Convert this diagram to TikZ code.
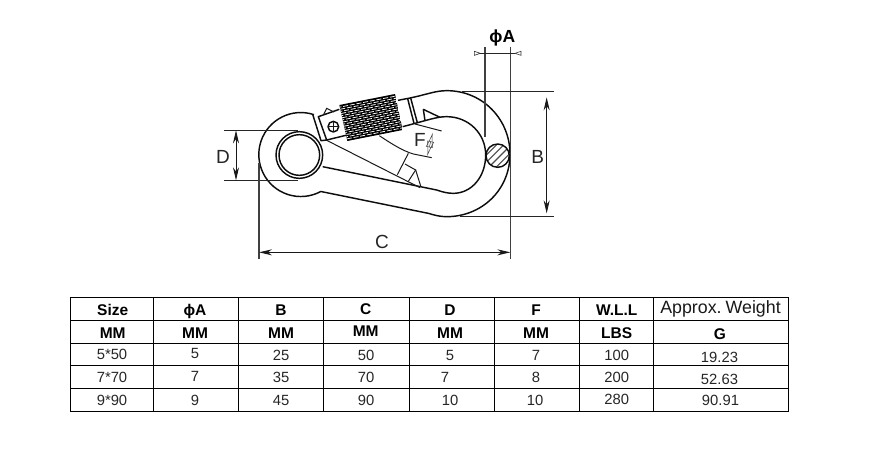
\documentclass[tikz,border=0pt]{standalone}
\usepackage{fontspec}
\setmainfont{Liberation Sans}
\usetikzlibrary{arrows.meta}
\tikzset{
  grid/.style={line width=1pt,black},
  cell/.style={inner sep=0pt,text height=10.5pt,text depth=0pt,text=black!85,font=\fontsize{14.8}{17}\selectfont},
  head/.style={inner sep=0pt,text height=11pt,text depth=0pt,text=black,font=\fontsize{15.5}{18}\bfseries\selectfont},
  dimlabel/.style={inner sep=0pt,text height=12pt,text depth=0pt,text=black!85,font=\fontsize{19}{21}\selectfont},
  body/.style={line width=1.45pt,black!95,line join=round},
  thin part/.style={line width=1pt,black!90},
  dimline/.style={line width=1pt,black!85},
  extline/.style={line width=1.1pt,black!75},
  dimarrow/.style={line width=.9pt,black!90,{Stealth[length=13,width=6]}-{Stealth[length=13,width=6]}},
  opentip/.style={line width=.6pt,black!80,fill=white},
}
\begin{document}
\begin{tikzpicture}[x=1pt,y=-1pt]
\useasboundingbox (0,0) rectangle (877,456);
\fill[white] (0,0) rectangle (877,456);
% ---------- carabiner, in units of a third of a pixel ----------
\begin{scope}[shift={(240,20)},x=0.33333pt,y=-0.33333pt]
  % named points for dimension lines
  \coordinate (Dtop0) at (-48,331);   \coordinate (Dtop1) at (174,331);
  \coordinate (Dbot0) at (-48,481);   \coordinate (Dbot1) at (174,481);
  \coordinate (Da) at (-12,331);      \coordinate (Db) at (-12,481);
  \coordinate (Cl0) at (57,430);      \coordinate (Cl1) at (57,716);
  \coordinate (Cr0) at (811,80);      \coordinate (Cr1) at (811,716);
  \coordinate (Ca) at (57,697);       \coordinate (Cb) at (811,697);
  \coordinate (Aleft0) at (735,80);   \coordinate (Aleft1) at (735,352);
  \coordinate (Atip) at (735,100);    \coordinate (Btip) at (811,100);
  \coordinate (Btop0) at (665,214);   \coordinate (Btop1) at (943,214);
  \coordinate (Bbot0) at (660,589);   \coordinate (Bbot1) at (943,589);
  \coordinate (Ba) at (920,232);      \coordinate (Bb) at (920,580);
  \coordinate (Fa) at (578,338);      \coordinate (Fb) at (562,408);
  % knurled sleeve
  \begin{scope}
    \clip (298,255) -- (465,222) -- (488,330) -- (322,363) -- cycle;
    \fill[black] (298,255) -- (465,222) -- (488,330) -- (322,363) -- cycle;
    \foreach \t in {1,...,16}{
      \pgfmathsetmacro{\ph}{mod(\t,2)*3.4}
      \draw[line width=.75pt,white,dash pattern=on 5pt off 1.8pt,dash phase=\ph pt]
        ({298+\t*1.41},{255+\t*6.35}) -- ++(170,-33.6);
    }
  \end{scope}
  % outer contour
  \draw[body] (222,284) arc[start angle=-71.7,end angle=-298.4,radius=126]
     -- (565,580) .. controls (585,586) and (600,590) .. (620,590)
     .. controls (725,590) and (810,510) .. (810,402)
     .. controls (810,300) and (730,212) .. (620,212)
     .. controls (585,212) and (560,224) .. (505,235) -- (474,241);
  % inner contour
  \draw[body] (248,440) -- (590,510) .. controls (610,517) and (625,520) .. (640,520)
     .. controls (695,520) and (737,470) .. (737,405)
     .. controls (737,340) and (685,290) .. (620,290)
     .. controls (590,290) and (565,300) .. (488,320);
  % eye ring
  \draw[body] (178,405) circle[radius=70];
  \draw[body] (178,405) circle[radius=61];
  % hinge end of gate
  \draw[body] (218,283) -- (243,362) -- (260,360) -- (235,290) -- (298,268);
  \draw[body] (260,360) -- (322,345);
  \draw[thin part] (250,285) -- (260,265) -- (282,276);
  \draw[body] (280,320) circle[radius=16];
  \draw[thin part] (264,320) -- (296,320) (280,304) -- (280,336);
  % gate nose
  \draw[body] (503,236) -- (522,310);
  \draw[body] (512,234) -- (532,308);
  \draw[body] (550,268) -- (555,302);
  \draw[body] (550,268) -- (600,292);
  % gate inner lines
  \draw[thin part] (258,360) -- (540,503);
  \draw[thin part] (418,347) .. controls (460,375) and (490,393) .. (520,402) -- (575,413);
  \draw[thin part] (525,312) -- (605,333);
  \draw[thin part] (505,400) -- (472,464);
  \draw[thin part] (495,432) -- (527,450) -- (505,484);
  \draw[thin part] (527,450) -- (543,501);
  % pin
  \begin{scope}
    \clip (773,407) circle[radius=35];
    \foreach \d in {-36,-14,8,30}
      \draw[line width=1.1pt,black!70] ({773+\d-40},{407+40}) -- ({773+\d+40},{407-40});
  \end{scope}
  \draw[body] (773,407) circle[radius=35];
  % dimension lines
  \draw[dimline] (Dtop0) -- (Dtop1);
  \draw[dimline] (Dbot0) -- (Dbot1);
  \draw[dimarrow] (Da) -- (Db);
  \draw[extline] (Cl0) -- (Cl1);
  \draw[extline] (Cr0) -- (Cr1);
  \draw[dimarrow] (Ca) -- (Cb);
  \draw[extline] (Aleft0) -- (Aleft1);
  \draw[dimline] (Atip) -- (Btip);
  \draw[dimline] (Btop0) -- (Btop1);
  \draw[dimline] (Bbot0) -- (Bbot1);
  \draw[dimarrow] (Ba) -- (Bb);
  \draw[opentip] (703,94) -- (703,106) -- (721,100) -- cycle;
  \draw[dimline,line width=.6pt] (721,100) -- (Atip);
  \draw[opentip] (843,94) -- (843,106) -- (825,100) -- cycle;
  \draw[dimline,line width=.6pt] (825,100) -- (Btip);
  \draw[line width=.5pt,black!75,{Latex[open,length=15,width=7]}-{Latex[open,length=15,width=7]}] (Fa) -- (Fb);
  % dimension labels
  \node[dimlabel] (lD) at (-51,412) {D};
  \node[dimlabel] (lF) at (540,360) {F};
  \node[dimlabel] (lB) at (893,412) {B};
  \node[dimlabel] (lC) at (426,667) {C};
  \node[dimlabel,font=\fontsize{17.5}{20}\bfseries\selectfont,text=black] (lA) at (787,50) {ϕA};
\end{scope}
% ---------- table ----------
\foreach \x in {70.5,153.7,238.3,323.3,409.3,494.3,579.7,653.3,788.3}
  \draw[grid] (\x,297.7) -- (\x,411);
\foreach \y in {297.7,320.3,343.3,365.3,388.3,411}
  \draw[grid] (70,\y) -- (788.8,\y);
% header row
\node[head] (h1) at (112.7,309.5) {Size};
\node[head] (h2) at (195,309.5) {ϕA};
\node[head] (h3) at (281,309.5) {B};
\node[head] (h4) at (365.7,308.5) {C};
\node[head] (h5) at (450,309.5) {D};
\node[head] (h6) at (536,309.5) {F};
\node[head] (h7) at (616.7,309.5) {W.L.L};
\node[head,font=\fontsize{17.8}{20}\selectfont,text=black!90] (h8) at (720.5,308) {Approx.\hspace{-2.6pt} Weight};
% unit row
\node[head] (u1) at (112.7,332.5) {MM};
\node[head] (u2) at (195,332.5) {MM};
\node[head] (u3) at (281,332.5) {MM};
\node[head] (u4) at (365.7,331) {MM};
\node[head] (u5) at (450,332.5) {MM};
\node[head] (u6) at (536,332.5) {MM};
\node[head] (u7) at (616.7,332.5) {LBS};
\node[head] (u8) at (720,334) {G};
% data rows
\node[cell] (a1) at (112,354.5) {5*50};
\node[cell] (a2) at (195,353.5) {5};
\node[cell] (a3) at (281,355) {25};
\node[cell] (a4) at (366,355) {50};
\node[cell] (a5) at (450,355) {5};
\node[cell] (a6) at (536,355) {7};
\node[cell] (a7) at (616.7,355) {100};
\node[cell] (a8) at (719.5,357) {19.23};
\node[cell] (b1) at (112,377.5) {7*70};
\node[cell] (b2) at (195,376) {7};
\node[cell] (b3) at (281,377.5) {35};
\node[cell] (b4) at (366,377.5) {70};
\node[cell] (b5) at (445,377) {7};
\node[cell] (b6) at (536,377) {8};
\node[cell] (b7) at (616.7,377.5) {200};
\node[cell] (b8) at (719.5,379.5) {52.63};
\node[cell] (c1) at (112,400.5) {9*90};
\node[cell] (c2) at (195,400.5) {9};
\node[cell] (c3) at (281,400.5) {45};
\node[cell] (c4) at (366,400.5) {90};
\node[cell] (c5) at (450,400) {10};
\node[cell] (c6) at (535,400.5) {10};
\node[cell] (c7) at (616.7,399.5) {280};
\node[cell] (c8) at (720.5,400.5) {90.91};
\end{tikzpicture}
\end{document}
